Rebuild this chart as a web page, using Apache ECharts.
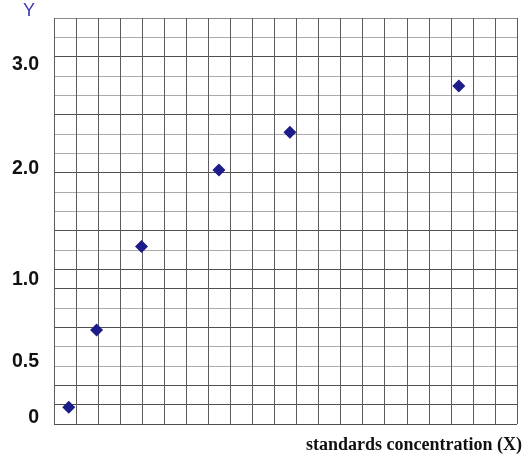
<!DOCTYPE html>
<html>
<head>
<meta charset="utf-8">
<script src="https://cdn.jsdelivr.net/npm/echarts@6/dist/echarts.min.js"></script>
<style>
html,body{margin:0;padding:0;background:#fff;}
#chart{width:523px;height:454px;}
</style>
</head>
<body>
<div id="chart"></div>
<script>
// Data (x in grid cells, y in absorbance units)
const xValues = [0.67, 1.93, 3.97, 7.48, 10.70, 18.36];
const yValues = [0.138, 0.778, 1.468, 2.102, 2.414, 2.798];
// Y tick labels as printed, and where they sit on the value scale
const yTickLabels = ['0', '0.5', '1.0', '2.0', '3.0'];
const yTickAt = [0.050, 0.520, 1.198, 2.117, 2.976];
const xTitle = 'standards concentration (X)';
const yTitle = 'Y';

const dark = '#505050', light = '#ababab', mid = '#8a8a8a';
const hLineColors = [dark, dark, dark, light, light, dark, light, dark, dark, light, dark,
  light, light, dark, light, light, dark, light, light, dark, light, mid];

const chart = echarts.init(document.getElementById('chart'), null, {renderer: 'canvas'});
chart.setOption({
  backgroundColor: '#ffffff',
  animation: false,
  title: [
    {text: yTitle, left: 23, top: 2, padding: 0,
     textStyle: {color: '#3b3ba8', fontSize: 18, fontWeight: 'normal', fontFamily: 'Liberation Sans, Arial, sans-serif'}},
    {text: xTitle, right: 1, top: 436, padding: 0,
     textStyle: {color: '#111', fontSize: 18, fontWeight: 'bold', fontFamily: 'Liberation Serif, Times New Roman, serif'}}
  ],
  grid: {left: 54, top: 18, width: 463, height: 406, containLabel: false},
  xAxis: {
    type: 'value', min: 0, max: 21, interval: 1,
    axisLine: {show: false}, axisTick: {show: false}, axisLabel: {show: false},
    splitLine: {show: true, lineStyle: {color: '#5c5c5c', width: 1}}
  },
  yAxis: [
    {
      type: 'value', min: 0, max: 3.36, interval: 0.16,
      axisLine: {show: false}, axisTick: {show: false}, axisLabel: {show: false},
      splitLine: {show: true, lineStyle: {color: hLineColors, width: 1}}
    },
    {
      type: 'value', min: 0, max: 3.36, position: 'left',
      axisLine: {show: false}, axisTick: {show: false}, splitLine: {show: false},
      axisLabel: {
        show: true, customValues: yTickAt, margin: 15,
        color: '#111', fontSize: 19.5, fontWeight: 'bold',
        fontFamily: 'Liberation Sans, Arial, sans-serif',
        formatter: function (v) {
          let best = 0;
          for (let i = 0; i < yTickAt.length; i++) {
            if (Math.abs(yTickAt[i] - v) < Math.abs(yTickAt[best] - v)) best = i;
          }
          return yTickLabels[best];
        }
      }
    }
  ],
  series: [{
    type: 'scatter',
    yAxisIndex: 0,
    symbol: 'diamond',
    symbolSize: 13,
    itemStyle: {color: '#1c1c8a', opacity: 1},
    data: xValues.map((x, i) => [x, yValues[i]])
  }]
});
</script>
</body>
</html>
